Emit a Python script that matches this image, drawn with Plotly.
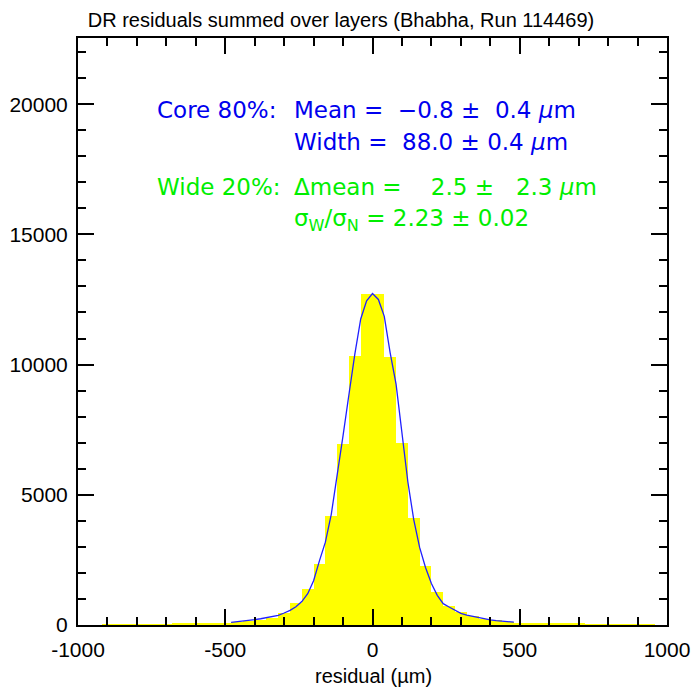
import plotly.graph_objects as go

# Histogram: bin centres (µm) and counts
bin_centers = [-980, -940, -900, -860, -820, -780, -740, -700, -660, -620,
               -580, -540, -500, -460, -420, -380, -340, -300, -260, -220,
               -180, -140, -100, -60, -20, 20, 60, 100, 140, 180,
               220, 260, 300, 340, 380, 420, 460, 500, 540, 580,
               620, 660, 700, 740, 780, 820, 860, 900, 940, 980]
bin_counts = [0, 0, 10, 10, 15, 15, 20, 25, 45, 50,
              55, 75, 95, 110, 140, 190, 260, 470, 830, 1400,
              2340, 4200, 6950, 10320, 12720, 12720, 10280, 6990, 4110, 2280,
              1270, 740, 500, 330, 230, 180, 110, 95, 65, 60,
              55, 50, 45, 25, 20, 15, 15, 10, 10, 0]
bin_width = 40

# Fit curve
fit_x = [-480, -460, -440, -420, -400, -380, -360, -340, -320, -300,
         -280, -260, -240, -220, -200, -180, -160, -140, -120, -100,
         -80, -60, -40, -20, 0, 20, 40, 60, 80, 100,
         120, 140, 160, 180, 200, 220, 240, 260, 280, 300,
         320, 340, 360, 380, 400, 420, 440, 460, 480]
fit_y = [100, 120, 145, 175, 205, 240, 280, 320, 370, 460,
         560, 700, 900, 1200, 1700, 2470, 3180, 4250, 5700, 7270,
         8850, 10400, 11750, 12450, 12730, 12500, 11850, 10450, 9250, 7320,
         5500, 4050, 2980, 2210, 1590, 1140, 820, 690, 560, 450,
         380, 330, 275, 235, 200, 170, 145, 125, 110]

x_ticks = [-1000, -500, 0, 500, 1000]
y_ticks = [0, 5000, 10000, 15000, 20000]

title_text = "DR residuals summed over layers (Bhabha, Run 114469)"
x_title = "residual (µm)"

fig = go.Figure()
fig.add_trace(go.Bar(x=bin_centers, y=bin_counts, width=bin_width,
                     marker=dict(color="#ffff00", line=dict(width=0)),
                     showlegend=False))
fig.add_trace(go.Scatter(x=fit_x, y=fit_y, mode="lines",
                         line=dict(color="#2020ff", width=1.3),
                         showlegend=False))

W, H = 691, 690
L, R, T, B = 78, 24, 38, 65
pw = W - L - R
ph = H - T - B

def px(x):
    return (x - L) / pw

def py(y):
    return (H - B - y) / ph

helv = "Liberation Sans, Arial, sans-serif"
afont = "DejaVu Sans, sans-serif"
blue = "#0000ee"
green = "#00ee00"

ann = []
def add(text, x, y, color, size=23, family=afont, anchor="left"):
    ann.append(dict(text=text, x=px(x), y=py(y), xref="paper", yref="paper",
                    xanchor=anchor, yanchor="middle", showarrow=False,
                    font=dict(family=family, size=size, color=color)))

mu = "<i>μ</i>m"
add("Core 80%:", 155, 110, blue)
add("Mean =  −0.8 ±  0.4 " + mu, 292, 110, blue)
add("Width =  88.0 ± 0.4 " + mu, 292, 142, blue)
add("Wide 20%:", 155, 187, green)
add("Δmean =    2.5 ±   2.3 " + mu, 292, 187, green)
add("σ<sub>W</sub>/σ<sub>N</sub> = 2.23 ± 0.02", 292, 220, green)

# x-axis title
add(x_title, 373, 676, "black", size=20, family=helv, anchor="center")

fig.update_layout(
    width=W, height=H,
    margin=dict(l=L, r=R, t=T, b=B),
    paper_bgcolor="white", plot_bgcolor="white",
    bargap=0,
    title=dict(text=title_text, x=341 / W, xanchor="center",
               y=1 - 20 / H, yanchor="middle",
               font=dict(family=helv, size=20, color="black")),
    annotations=ann,
    xaxis=dict(range=[-1000, 1000], tickvals=x_ticks,
               ticktext=[str(v) for v in x_ticks],
               ticks="inside", ticklen=16, tickwidth=1.5, tickcolor="black",
               minor=dict(dtick=100, ticks="inside", ticklen=8, tickwidth=1.5,
                          tickcolor="black", showgrid=False),
               showline=True, linecolor="black", linewidth=2, mirror="allticks",
               showgrid=False, zeroline=False, ticklabelstandoff=5,
               automargin=False,
               tickfont=dict(family=helv, size=21, color="black")),
    yaxis=dict(range=[0, 22540], tickvals=y_ticks,
               ticktext=[str(v) for v in y_ticks],
               ticks="inside", ticklen=16, tickwidth=1.5, tickcolor="black",
               minor=dict(dtick=1000, ticks="inside", ticklen=8, tickwidth=1.5,
                          tickcolor="black", showgrid=False),
               showline=True, linecolor="black", linewidth=2, mirror="allticks",
               showgrid=False, zeroline=False, ticklabelstandoff=4,
               automargin=False,
               tickfont=dict(family=helv, size=21, color="black")),
)

fig.write_html("out.html")
